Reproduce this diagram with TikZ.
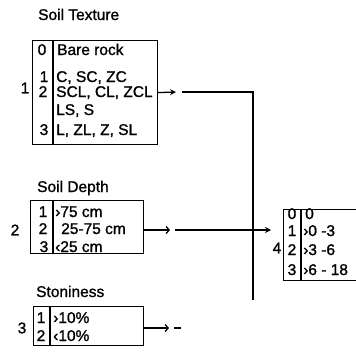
\documentclass[tikz,border=0pt]{standalone}
\usepackage{fontspec}
\setmainfont{Liberation Sans}
\newfontfamily\lettering[FakeBold=1.2]{Liberation Sans}
\usetikzlibrary{arrows.meta}
\begin{document}
\begin{tikzpicture}[x=1pt,y=-1pt,
  boxfr/.style={draw,line width=1.2pt,inner sep=0pt,anchor=north west},
  txt/.style={inner sep=0pt,font=\lettering\fontsize{15.5}{18}\selectfont},
  ttl/.style={inner sep=0pt,font=\lettering\fontsize{15.5}{18}\selectfont},
  conn/.style={line width=1.3pt},
  headA/.style={-{Stealth[length=6pt,width=6pt]}},
  headB/.style={-{Straight Barb[length=3pt,width=7pt]}}]
\useasboundingbox (0,0) rectangle (356,351);
% ---------- Box 1: Soil Texture
\node[ttl,anchor=base west] (t1) at (38,20) {Soil Texture};
\node[boxfr,minimum width=125pt,minimum height=104pt] (b1) at (32,40) {};
\draw[line width=1.2pt] ([xshift=21pt]b1.north west) -- ([xshift=21pt]b1.south west);
\node[txt] (l1) at (25,88) {1};
\node[txt,anchor=base] (b1d0) at (42,55) {0};
\node[txt,anchor=base west] (b1r0) at (57,55) {Bare rock};
\node[txt,anchor=base] (b1d1) at (44,82) {1};
\node[txt,anchor=base west] (b1r1) at (56,82) {C, SC, ZC};
\node[txt,anchor=base] (b1d2) at (43,97) {2};
\node[txt,anchor=base west] (b1r2) at (56,97) {SCL, CL, ZCL};
\node[txt,anchor=base west] (b1r2b) at (56,115) {LS, S};
\node[txt,anchor=base] (b1d3) at (44,135) {3};
\node[txt,anchor=base west] (b1r3) at (56,135) {L, ZL, Z, SL};
% ---------- Box 2: Soil Depth
\node[ttl,anchor=base west] (t2) at (37,192) {Soil Depth};
\node[boxfr,minimum width=113pt,minimum height=53pt] (b2) at (30,200) {};
\draw[line width=1.2pt] ([xshift=23pt]b2.north west) -- ([xshift=23pt]b2.south west);
\node[txt] (l2) at (15,230) {2};
\node[txt,anchor=base] (b2d1) at (43,217) {1};
\node[txt,anchor=base west] (b2r1) at (55,217) {›75 cm};
\node[txt,anchor=base] (b2d2) at (43,234) {2};
\node[txt,anchor=base west] (b2r2) at (61,234) {25-75 cm};
\node[txt,anchor=base] (b2d3) at (44,252) {3};
\node[txt,anchor=base west] (b2r3) at (55,252) {‹25 cm};
% ---------- Box 3: Stoniness
\node[ttl,anchor=base west] (t3) at (36,297) {Stoniness};
\node[boxfr,minimum width=110pt,minimum height=39pt] (b3) at (33,306) {};
\draw[line width=1.2pt] ([xshift=17pt]b3.north west) -- ([xshift=17pt]b3.south west);
\node[txt] (l3) at (22,328) {3};
\node[txt,anchor=base] (b3d1) at (41,323) {1};
\node[txt,anchor=base west] (b3r1) at (53,323) {›10\%};
\node[txt,anchor=base] (b3d2) at (41,341) {2};
\node[txt,anchor=base west] (b3r2) at (53,341) {‹10\%};
% ---------- Box 4
\begin{scope}
\clip (0,0) rectangle (356,351);
\node[boxfr,minimum width=85pt,minimum height=71pt] (b4) at (283,209) {};
\end{scope}
\draw[line width=1.2pt] ([xshift=18pt]b4.north west) -- ([xshift=18pt]b4.south west);
\node[txt] (l4) at (277,248) {4};
\node[txt,anchor=base] (b4d0) at (292,219) {0};
\node[txt,anchor=base west] (b4r0) at (305,219) {0};
\node[txt,anchor=base] (b4d1) at (292,236) {1};
\node[txt,anchor=base west] (b4r1) at (303,236) {›0 -3};
\node[txt,anchor=base] (b4d2) at (292,255) {2};
\node[txt,anchor=base west] (b4r2) at (303,255) {›3 -6};
\node[txt,anchor=base] (b4d3) at (292,275) {3};
\node[txt,anchor=base west] (b4r3) at (303,275) {›6 - 18};
% ---------- Connectors
\coordinate (a1) at (176,92);
\coordinate (s1) at (182,92);
\coordinate (jt) at (253,92);
\coordinate (jb) at (253,300);
\coordinate (a2) at (170,230);
\coordinate (s2) at (175,230);
\coordinate (j2) at (253,230);
\coordinate (a4) at (271,230);
\coordinate (a3) at (169,328);
\coordinate (s3) at (174,328);
\coordinate (e3) at (181,328);
\draw[conn,headA] (b1.east) -- (a1);
\draw[conn] (s1) -- (jt) -- (jb);
\draw[conn,headB] (b2.east |- a2) -- (a2);
\draw[conn] (s2) -- (j2);
\draw[conn,headA] (j2) -- (a4);
\draw[conn,headB] (b3.east |- a3) -- (a3);
\draw[conn] (s3) -- (e3);
\end{tikzpicture}
\end{document}
